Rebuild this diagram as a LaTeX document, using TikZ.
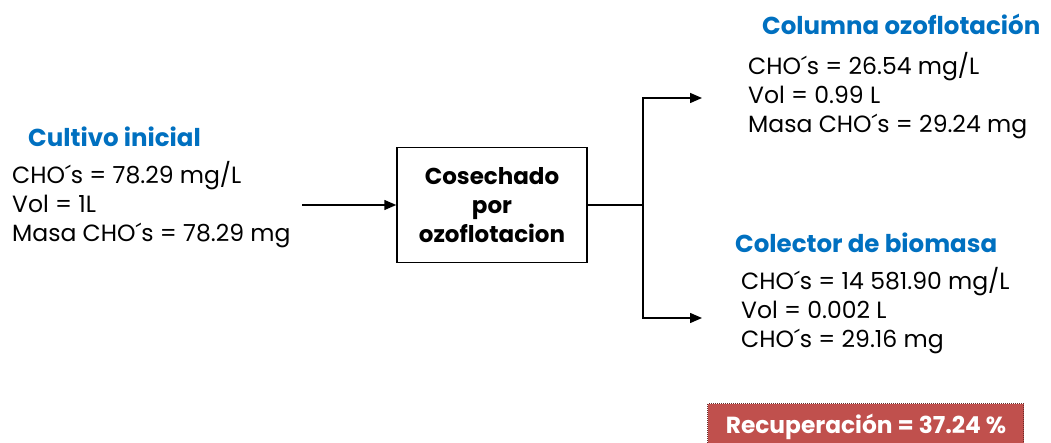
\documentclass[tikz,border=0pt]{standalone}
\usepackage{fontspec}
\setmainfont{Poppins}
\usetikzlibrary{positioning}
\usetikzlibrary{arrows.meta}
\definecolor{titleblue}{RGB}{0,112,192}
\definecolor{recred}{RGB}{192,80,77}

\begin{document}
\begin{tikzpicture}[x=1pt,y=-1pt,>={Triangle[length=12pt,width=10pt]},
  datos/.style={align=left,anchor=base west,inner sep=0pt,font=\fontsize{23.5}{29}\selectfont},
  titulo/.style={anchor=base west,inner sep=0pt,text=titleblue,font=\fontsize{24.5}{29}\bfseries\selectfont},
  proceso/.style={draw,line width=1.5pt,minimum width=190pt,minimum height=115pt,align=center,font=\fontsize{23}{29}\bfseries\selectfont}]
  \useasboundingbox (0,0) rectangle (1051,443);
  %\draw[very thin,color=gray] (0,0) grid[step=50] (1051,443);

  \node[titulo] (tinicial) at (28,147) {Cultivo inicial};
  \node[datos] (dinicial) at (12,242) {CHO´s = 78.29 mg/L\\Vol = 1L\\Masa CHO´s = 78.29 mg};

  \node[proceso] (cosecha) at (492,205) {Cosechado\\por\\ozoflotacion};
  \coordinate (entrada) at (302,205);
  \coordinate (split) at (643,205);
  \coordinate (arriba) at (702,98);
  \coordinate (abajo) at (702,318);

  \draw[line width=1.5pt,->] (entrada) -- (cosecha.west);
  \draw[line width=1.5pt] (cosecha.east) -- (split);
  \draw[line width=1.5pt,->] (split) |- (arriba);
  \draw[line width=1.5pt,->] (split) |- (abajo);

  \node[titulo] (tcolumna) at (762,35) {Columna ozoflotación};
  \node[datos] (dcolumna) at (748,133) {CHO´s = 26.54 mg/L\\Vol = 0.99 L\\Masa CHO´s = 29.24 mg};

  \node[titulo] (tcolector) at (735,253) {Colector de biomasa};
  \node[datos] (dcolector) at (741,347) {CHO´s = 14 581.90 mg/L\\Vol = 0.002 L\\CHO´s = 29.16 mg};

  \node[fill=recred,draw=recred!55!black,densely dotted,line width=1pt,minimum width=316pt,minimum height=48pt,
    anchor=north west] (recup) at (707,403) {};
  \node[anchor=base,text=white,font=\fontsize{23.3}{28}\bfseries\selectfont,inner sep=0pt] (trecup) at (866,433) {Recuperación = 37.24 \%};
\end{tikzpicture}
\end{document}
